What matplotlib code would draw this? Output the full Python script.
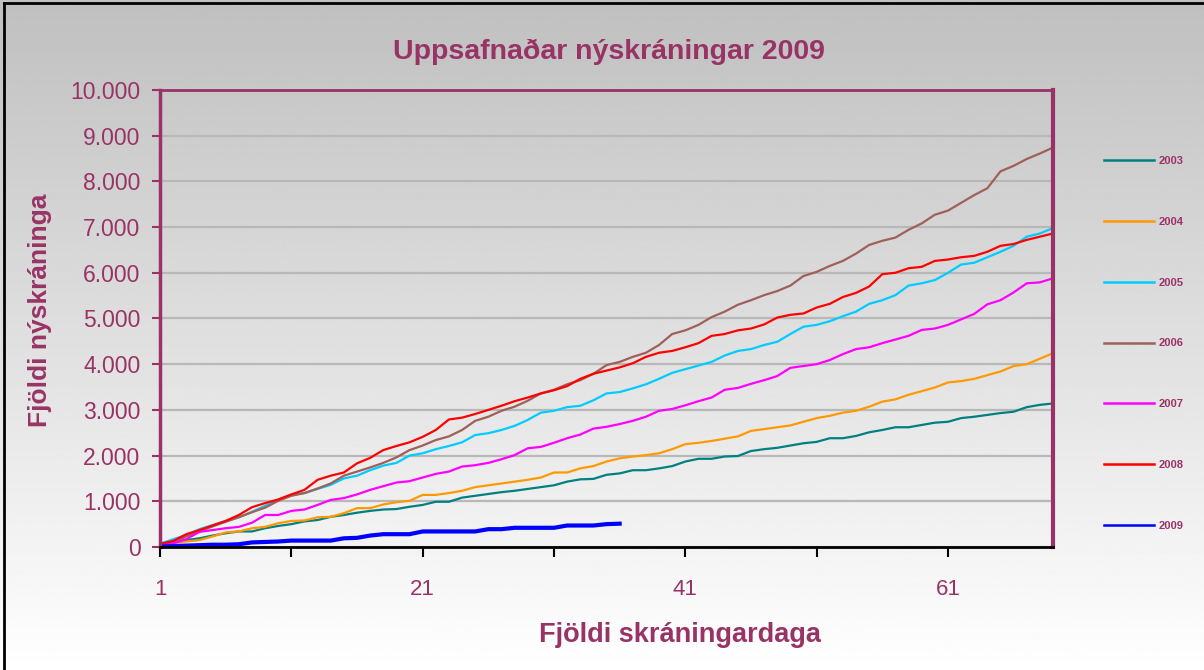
import numpy as np
import matplotlib.pyplot as plt
from matplotlib.lines import Line2D
from matplotlib.ticker import FuncFormatter, MultipleLocator

plt.rcParams['font.family'] = ['Liberation Sans', 'DejaVu Sans']

PURPLE = "#993366"

# cumulative registrations per registration day
y2003 = [50, 120, 150, 190, 250, 300, 340, 340, 410, 460, 500, 560,
         590, 660, 700, 750, 790, 820, 830, 880, 920, 990, 990,
         1080, 1120, 1160, 1200, 1230, 1270, 1310, 1350, 1430, 1480, 1490,
         1580, 1610, 1680, 1680, 1720, 1770, 1870, 1930, 1930, 1980,
         1990, 2100, 2140, 2170, 2220, 2270, 2300, 2380, 2380, 2430, 2510, 2560,
         2620, 2620, 2670, 2720, 2740, 2820, 2850, 2890, 2930, 2960, 3060, 3110, 3140]
y2004 = [50, 90, 120, 150, 230, 320, 340, 410, 440, 520, 570, 580,
         650, 660, 740, 850, 850, 930, 980, 1010, 1140, 1140, 1180,
         1230, 1310, 1350, 1390, 1430, 1470, 1520, 1630, 1630, 1720, 1770,
         1870, 1940, 1980, 2010, 2050, 2140, 2250, 2280, 2320, 2370,
         2420, 2540, 2580, 2620, 2660, 2740, 2820, 2870, 2940, 2980, 3070, 3180,
         3230, 3330, 3410, 3490, 3600, 3630, 3680, 3760, 3840, 3960, 4000, 4120, 4240]
y2005 = [70, 170, 260, 390, 480, 570, 650, 770, 900, 1030, 1140, 1180,
         1270, 1360, 1500, 1560, 1680, 1780, 1840, 2000, 2050, 2140, 2210,
         2290, 2450, 2490, 2560, 2650, 2780, 2940, 2980, 3060, 3090, 3210,
         3360, 3390, 3470, 3560, 3680, 3810, 3890, 3970, 4050, 4190,
         4290, 4330, 4420, 4490, 4660, 4820, 4860, 4940, 5050, 5150, 5320, 5400,
         5510, 5720, 5770, 5840, 6000, 6180, 6220, 6340, 6460, 6590, 6790, 6860, 6980]
y2006 = [50, 90, 230, 340, 450, 550, 650, 760, 860, 1010, 1120, 1180,
         1280, 1390, 1560, 1650, 1740, 1840, 1960, 2120, 2220, 2340, 2420,
         2560, 2760, 2850, 2980, 3070, 3200, 3360, 3440, 3560, 3650, 3790,
         3980, 4050, 4160, 4250, 4420, 4660, 4740, 4860, 5030, 5150,
         5300, 5400, 5510, 5600, 5720, 5930, 6020, 6150, 6260, 6420, 6610, 6700,
         6770, 6940, 7080, 7270, 7360, 7530, 7700, 7850, 8220, 8340, 8490, 8610, 8740]
y2007 = [30, 80, 170, 330, 370, 410, 440, 530, 700, 700, 790, 820,
         920, 1030, 1070, 1150, 1250, 1330, 1410, 1440, 1520, 1600, 1650,
         1760, 1790, 1840, 1920, 2010, 2160, 2190, 2280, 2380, 2460, 2590,
         2630, 2690, 2760, 2850, 2980, 3020, 3100, 3190, 3270, 3440,
         3480, 3570, 3650, 3740, 3920, 3960, 4000, 4090, 4220, 4330, 4370, 4460,
         4540, 4620, 4750, 4780, 4860, 4980, 5100, 5310, 5400, 5570, 5770, 5790, 5880]
y2008 = [70, 130, 280, 370, 470, 570, 700, 870, 960, 1040, 1150, 1250,
         1470, 1560, 1630, 1830, 1950, 2120, 2210, 2290, 2410, 2560, 2790,
         2830, 2910, 3000, 3090, 3190, 3270, 3360, 3430, 3520, 3680, 3790,
         3860, 3930, 4020, 4160, 4250, 4290, 4370, 4460, 4620, 4660,
         4740, 4780, 4870, 5020, 5080, 5110, 5240, 5320, 5470, 5560, 5700, 5970,
         6000, 6100, 6130, 6260, 6290, 6340, 6370, 6460, 6590, 6630, 6720, 6790, 6860]
y2009 = [10, 20, 30, 40, 50, 50, 60, 100, 110, 120, 140, 140,
         140, 140, 190, 200, 250, 280, 280, 280, 340, 340, 340, 340,
         340, 390, 390, 420, 420, 420, 420, 470, 470, 470, 500, 510]

series = [("2003", y2003, "#008080", 1.6),
          ("2004", y2004, "#ff9900", 1.6),
          ("2005", y2005, "#00ccff", 1.6),
          ("2006", y2006, "#a0605a", 1.6),
          ("2007", y2007, "#ff00ff", 1.6),
          ("2008", y2008, "#ff0000", 1.6),
          ("2009", y2009, "#0000ff", 3.0)]

fig = plt.figure(figsize=(12.04, 6.7), dpi=100)

# grey-to-white background
bg = fig.add_axes([0, 0, 1, 1], zorder=-10)
grad = np.linspace(0.75, 1.0, 256).reshape(-1, 1)
bg.imshow(grad, cmap="gray", vmin=0, vmax=1, aspect="auto", extent=[0, 1, 0, 1])
bg.set_axis_off()

fig.add_artist(Line2D([0.003, 0.003], [0, 0.995], color="black", lw=2, transform=fig.transFigure))
fig.add_artist(Line2D([0.003, 1.0], [0.995, 0.995], color="black", lw=2, transform=fig.transFigure))

ax = fig.add_axes([0.1329, 0.1836, 0.7417, 0.6821])
ax.set_facecolor("none")

for name, vals, col, lw in series:
    days = np.arange(1, len(vals) + 1)
    ax.plot(days, vals, color=col, lw=lw, label=name, solid_joinstyle="miter")

ax.set_xlim(1, 69)
ax.set_ylim(0, 10000)
ax.yaxis.set_major_locator(MultipleLocator(1000))
ax.yaxis.set_major_formatter(FuncFormatter(lambda v, p: f"{int(v):,}".replace(",", ".")))
ax.set_xticks([1, 11, 21, 31, 41, 51, 61])
ax.set_xticklabels(["1", "", "21", "", "41", "", "61"])
ax.grid(axis="y", color="#b8b8b8", lw=1.6)
ax.set_axisbelow(True)

for s in ["left", "top", "right"]:
    ax.spines[s].set_color(PURPLE)
ax.spines["left"].set_linewidth(2.5)
ax.spines["top"].set_linewidth(2.0)
ax.spines["right"].set_linewidth(3.0)
ax.spines["bottom"].set_color("black")
ax.spines["bottom"].set_linewidth(2.0)

ax.tick_params(axis="y", colors=PURPLE, labelsize=16.5, length=6, width=1.5, pad=8)
ax.tick_params(axis="x", colors="black", labelcolor=PURPLE, labelsize=16, length=7, width=1.5, pad=16)

fig.text(0.506, 0.922, "Uppsafnaðar nýskráningar 2009", ha="center", va="center",
         fontsize=20.5, fontweight="bold", color=PURPLE)
fig.text(0.033, 0.537, "Fjöldi nýskráninga", ha="center", va="center", rotation=90,
         fontsize=19, fontweight="bold", color=PURPLE)
fig.text(0.565, 0.052, "Fjöldi skráningardaga", ha="center", va="center",
         fontsize=19.5, fontweight="bold", color=PURPLE)

leg = fig.legend(loc="upper left", bbox_to_anchor=(0.917, 0.767), frameon=False,
                 prop={"size": 8, "weight": "bold"}, labelspacing=4.57,
                 handlelength=4.5, handletextpad=0.45, borderpad=0, borderaxespad=0)
for t in leg.get_texts():
    t.set_color(PURPLE)
for h in leg.get_lines():
    h.set_linewidth(1.8)

fig.savefig("out.png", dpi=100)
